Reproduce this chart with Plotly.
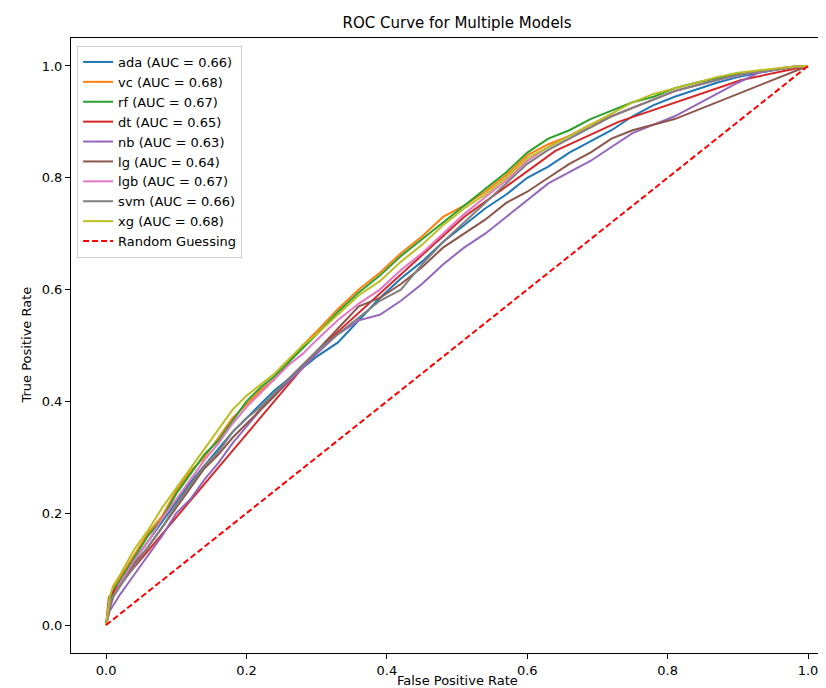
import plotly.graph_objects as go

# Shared false-positive-rate grid
fpr = [0, .005, .01, .02, .04, .06, .08, .10, .12, .14, .16, .18, .20, .22, .24, .26, .28, .30,
       .33, .36, .39, .42, .45, .48, .51, .54, .57, .60, .63, .66, .69, .72, .75, .78, .81, .84,
       .87, .90, .93, .96, .98, 1.0]

tpr_ada = [0, .035, .055, .08, .115, .15, .185, .22, .255, .285, .315, .345, .37, .395, .42, .44, .46, .48,
           .505, .545, .585, .62, .65, .685, .715, .745, .77, .80, .82, .845, .865, .885, .91, .93, .945, .958,
           .97, .98, .988, .994, .998, 1]
tpr_vc = [0, .045, .065, .085, .125, .165, .195, .24, .275, .30, .335, .37, .395, .42, .44, .47, .50, .525,
          .565, .60, .63, .665, .695, .73, .75, .775, .805, .84, .86, .875, .895, .91, .925, .94, .955, .965,
          .975, .985, .99, .995, .998, 1]
tpr_rf = [0, .04, .06, .08, .12, .16, .19, .235, .27, .305, .33, .365, .40, .425, .445, .47, .495, .52,
          .56, .595, .625, .66, .69, .72, .75, .78, .81, .845, .87, .885, .905, .92, .935, .945, .96, .97,
          .978, .986, .991, .996, .998, 1]
tpr_nb = [0, .025, .035, .055, .09, .125, .16, .20, .225, .26, .29, .325, .355, .385, .41, .435, .46, .485,
          .52, .545, .555, .58, .61, .645, .675, .70, .73, .76, .79, .81, .83, .855, .88, .895, .91, .93,
          .95, .97, .988, .996, .999, 1]
tpr_lgb = [0, .035, .05, .075, .115, .15, .19, .225, .26, .295, .325, .36, .39, .415, .44, .465, .485, .51,
           .545, .575, .60, .635, .665, .70, .735, .765, .795, .83, .855, .875, .89, .91, .925, .94, .955, .965,
           .975, .983, .99, .995, .998, 1]
tpr_svm = [0, .03, .05, .07, .105, .14, .175, .215, .25, .285, .31, .345, .37, .39, .415, .44, .465, .49,
           .52, .55, .58, .60, .645, .685, .72, .755, .79, .825, .85, .87, .89, .91, .925, .94, .955, .965,
           .975, .984, .99, .995, .998, 1]
tpr_xg = [0, .05, .07, .09, .135, .17, .21, .245, .28, .315, .35, .385, .41, .43, .45, .475, .50, .52,
          .555, .59, .615, .65, .68, .715, .745, .77, .80, .835, .855, .875, .895, .915, .935, .95, .96, .97,
          .98, .988, .992, .996, .999, 1]

# Decision tree: few thresholds, straight segments
fpr_dt = [0, .004, .30, .51, .64, .73, .905, 1.0]
tpr_dt = [0, .05, .49, .73, .848, .90, .975, 1.0]

# Logistic regression: ends with a straight segment
fpr_lg = [0, .005, .01, .02, .04, .06, .08, .10, .12, .14, .16, .18, .20, .22, .24, .26, .28, .30,
          .33, .36, .39, .42, .45, .48, .51, .54, .57, .60, .63, .66, .69, .72, .75, .78, .81, 1.0]
tpr_lg = [0, .03, .05, .07, .11, .14, .175, .21, .245, .28, .305, .335, .36, .385, .41, .44, .465, .49,
          .53, .57, .585, .61, .64, .675, .70, .725, .755, .775, .80, .825, .845, .87, .885, .895, .905, 1.0]

rand_x = [0, 1]
rand_y = [0, 1]

models = ["ada", "vc", "rf", "dt", "nb", "lg", "lgb", "svm", "xg"]
aucs = ["0.66", "0.68", "0.67", "0.65", "0.63", "0.64", "0.67", "0.66", "0.68"]
xs = [fpr, fpr, fpr, fpr_dt, fpr, fpr_lg, fpr, fpr, fpr]
ys = [tpr_ada, tpr_vc, tpr_rf, tpr_dt, tpr_nb, tpr_lg, tpr_lgb, tpr_svm, tpr_xg]
colors = ["#1f77b4", "#ff7f0e", "#2ca02c", "#d62728", "#9467bd", "#8c564b", "#e377c2", "#7f7f7f", "#bcbd22"]

fig = go.Figure()
for i, m in enumerate(models):
    fig.add_trace(go.Scatter(
        x=xs[i], y=ys[i], mode="lines", name=f"{m} (AUC = {aucs[i]})",
        line=dict(color=colors[i], width=2)))
fig.add_trace(go.Scatter(
    x=rand_x, y=rand_y, mode="lines", name="Random Guessing",
    line=dict(color="#ff0000", width=2, dash="6px,3px")))

FONT = "DejaVu Sans"
axis_common = dict(
    showgrid=False, zeroline=False, showline=True, linecolor="black", linewidth=1,
    ticks="outside", ticklen=5, tickcolor="black", tickwidth=1,
    tickfont=dict(family=FONT, size=13, color="black"),
)
fig.update_layout(
    width=826, height=688,
    margin=dict(l=63, r=0, t=30, b=43),
    paper_bgcolor="white", plot_bgcolor="white",
    font=dict(family=FONT, size=13, color="black"),
    title=dict(text="ROC Curve for Multiple Models", x=0.506, xref="paper", xanchor="center",
               y=1 - 15 / 688, yref="container", yanchor="middle",
               font=dict(family=FONT, size=15, color="black")),
    xaxis=dict(range=[-0.05, 1.037], tickvals=[0, 0.2, 0.4, 0.6, 0.8, 1.0],
               ticktext=["0.0", "0.2", "0.4", "0.6", "0.8", "1.0"], mirror=True, **axis_common),
    yaxis=dict(range=[-0.05, 1.05], tickvals=[0, 0.2, 0.4, 0.6, 0.8, 1.0],
               ticktext=["0.0", "0.2", "0.4", "0.6", "0.8", "1.0"], mirror=False, **axis_common),
    legend=dict(x=0.008, y=0.987, xanchor="left", yanchor="top",
                bgcolor="white", bordercolor="#cccccc", borderwidth=1,
                font=dict(family=FONT, size=13, color="black")),
    showlegend=True,
    annotations=[
        dict(text="False Positive Rate", xref="paper", yref="paper", x=0.506, y=(645 - 672) / 615,
             xanchor="center", yanchor="middle", showarrow=False,
             font=dict(family=FONT, size=13, color="black")),
        dict(text="True Positive Rate", xref="paper", yref="paper", x=(18 - 63) / 763, y=0.5,
             xanchor="center", yanchor="middle", textangle=-90, showarrow=False,
             font=dict(family=FONT, size=13, color="black")),
    ],
)

fig.write_html("out.html")
